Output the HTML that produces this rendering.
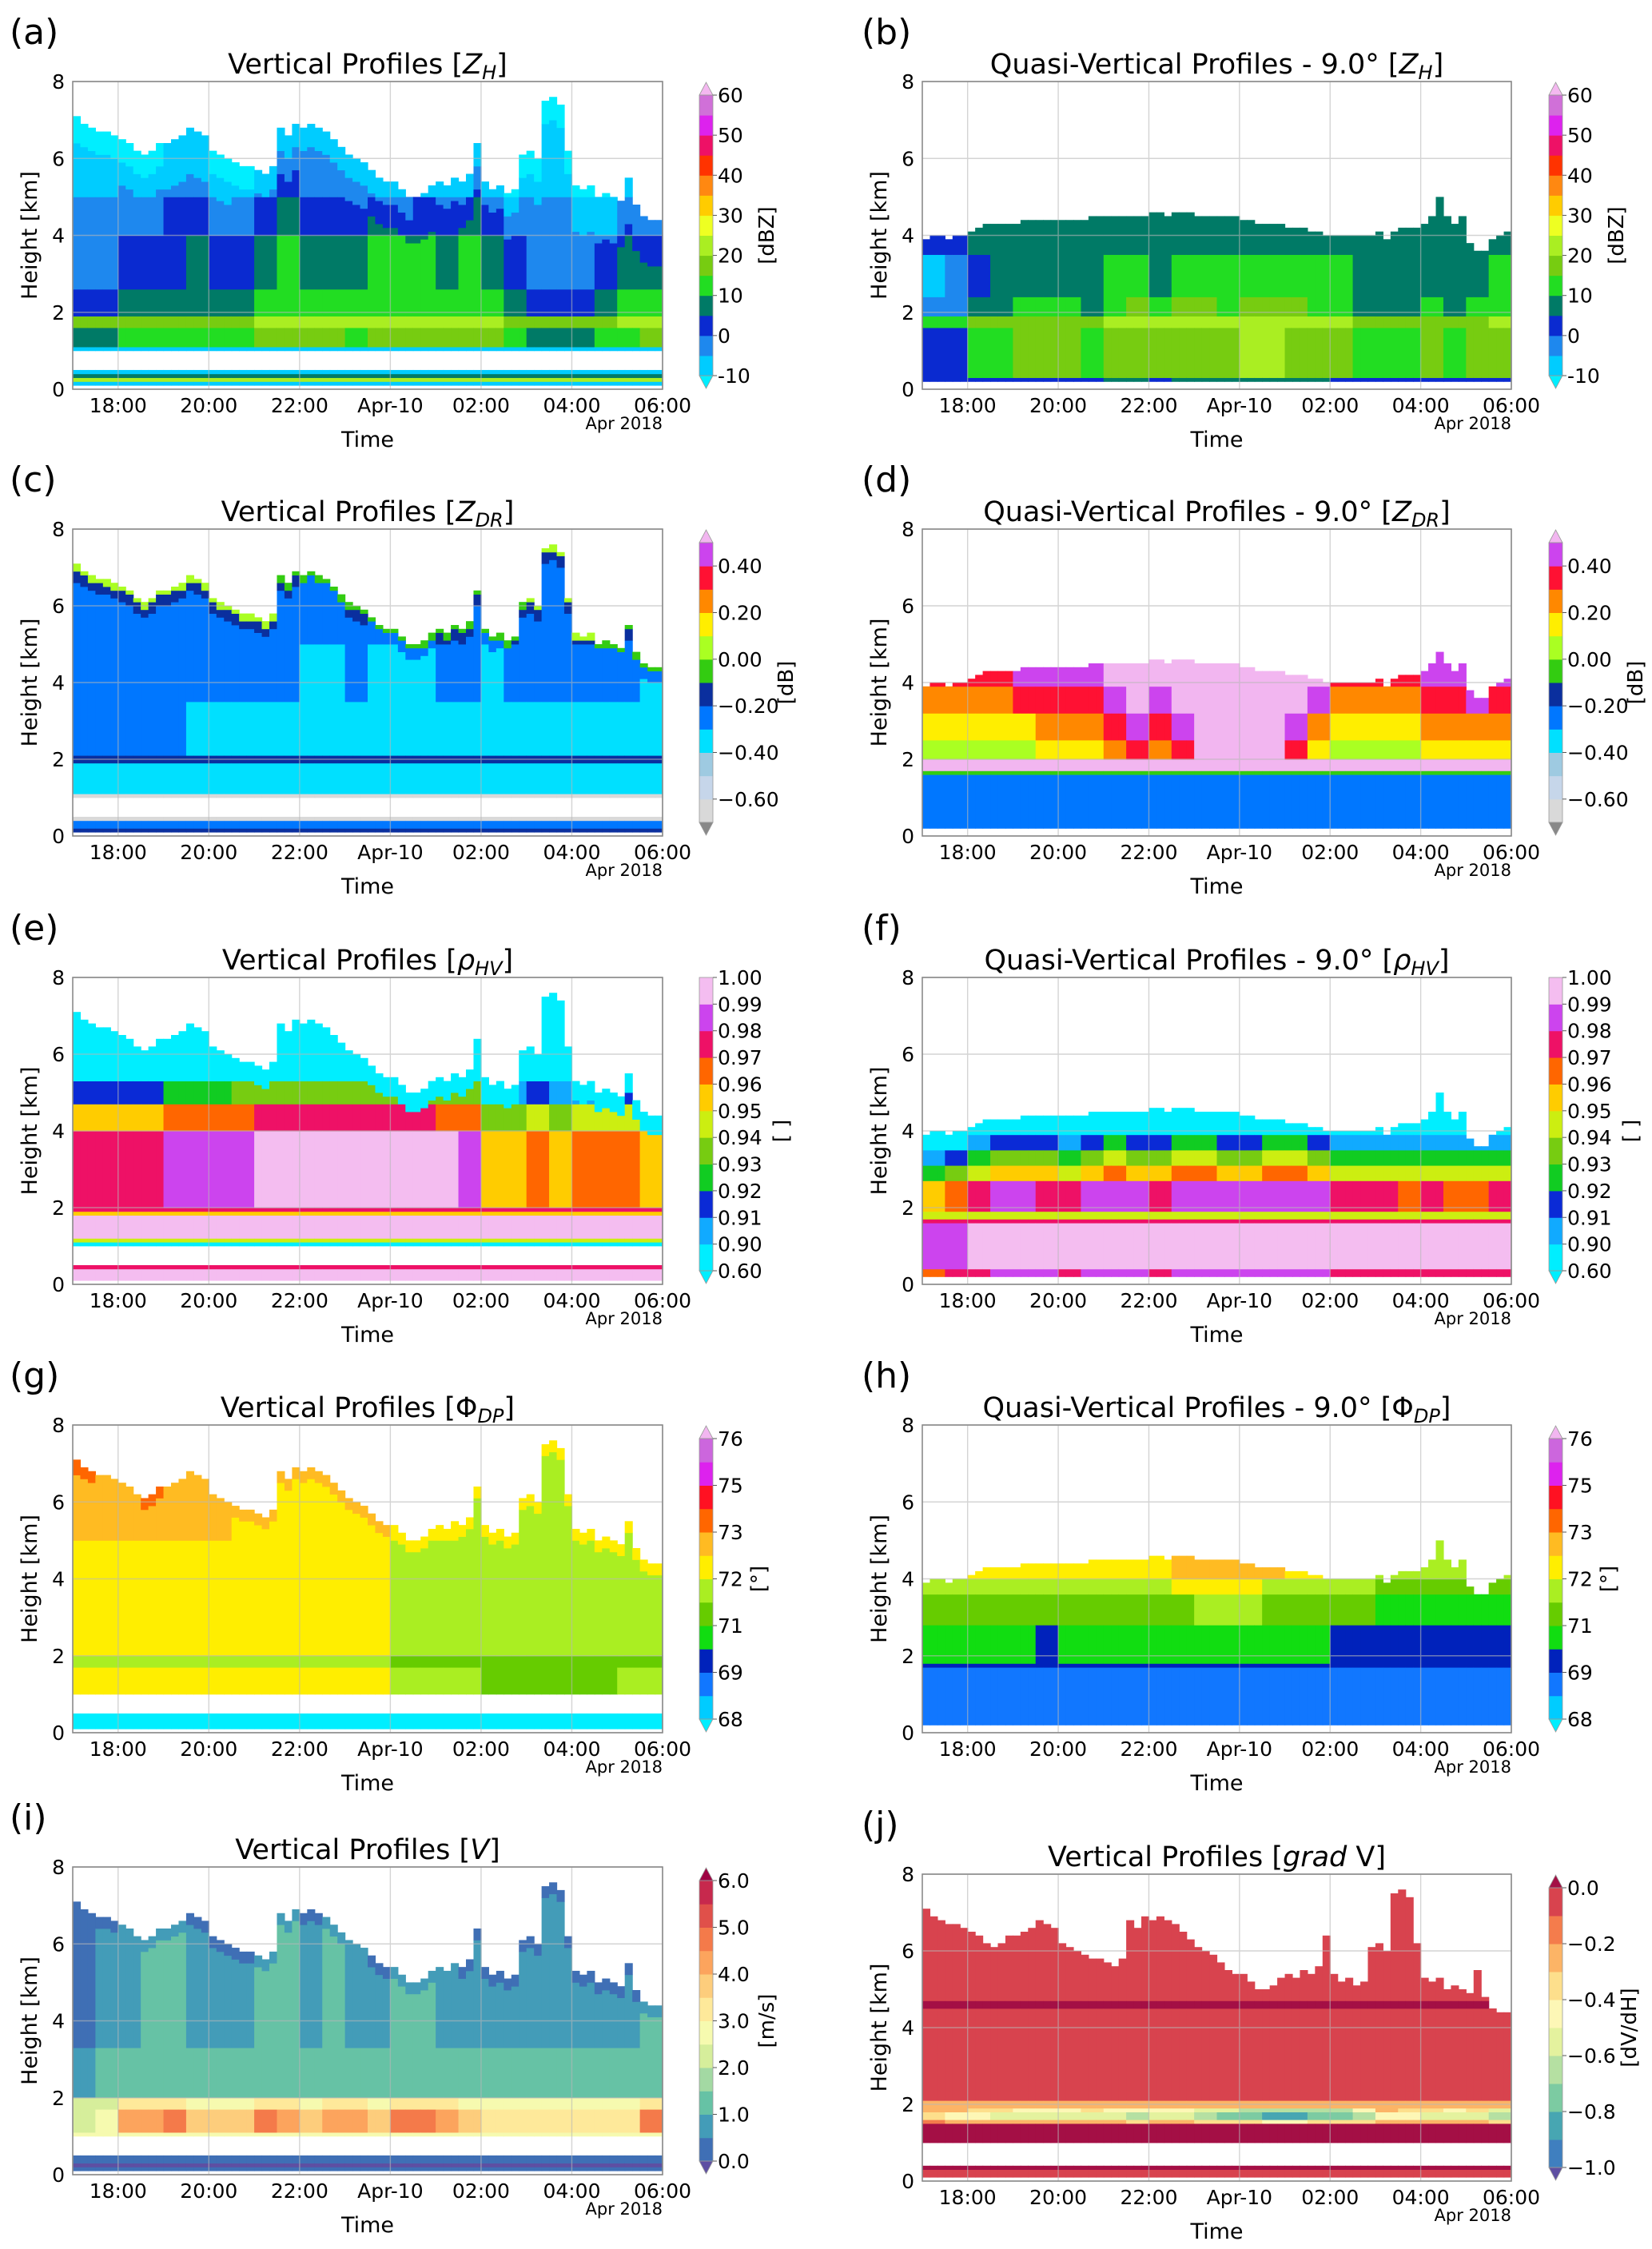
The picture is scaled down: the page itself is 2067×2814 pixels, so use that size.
<!DOCTYPE html>
<html>
<head>
<meta charset="utf-8">
<title>Vertical and Quasi-Vertical Profiles</title>
<style>
  html,body{margin:0;padding:0;background:#fff;}
  svg{display:block;}
  text{font-family:"DejaVu Sans","Liberation Sans",sans-serif;fill:#000;}
</style>
</head>
<body>
<svg id="fig" xmlns="http://www.w3.org/2000/svg" width="2067" height="2814" viewBox="0 0 2067 2814"></svg>
<script>
// ---------------- DATA ----------------
const timeTickHours = [1,3,5,7,9,11,13];
const timeTickLabels = ['18:00','20:00','22:00','Apr-10','02:00','04:00','06:00'];
const heightTicks = [0,2,4,6,8];

const echoTopVP = [7.05,6.9,6.8,6.7,6.65,6.6,6.5,6.4,6.2,6.1,6.2,6.4,6.4,6.5,6.6,6.8,6.7,6.6,6.2,6.1,6.0,5.9,5.8,5.8,5.7,5.6,5.8,6.8,6.6,6.9,6.8,6.9,6.8,6.7,6.5,6.3,6.1,6.0,5.9,5.7,5.5,5.4,5.4,5.2,5.0,5.0,5.1,5.3,5.4,5.3,5.5,5.4,5.6,6.4,5.4,5.2,5.3,5.1,5.2,6.1,6.2,6.0,7.5,7.6,7.4,6.2,5.3,5.2,5.3,5.0,5.1,5.0,4.9,5.5,4.8,4.5,4.4,4.4];
const echoTopQVP = [3.9,4.0,3.95,3.9,3.95,4.0,4.1,4.2,4.25,4.25,4.25,4.25,4.3,4.35,4.35,4.35,4.35,4.35,4.35,4.35,4.4,4.4,4.45,4.45,4.45,4.45,4.5,4.5,4.5,4.5,4.6,4.6,4.5,4.55,4.6,4.6,4.5,4.5,4.5,4.5,4.5,4.45,4.4,4.35,4.3,4.3,4.3,4.25,4.2,4.2,4.15,4.1,4.05,4.0,3.95,4.0,3.95,4.0,3.95,4.0,4.05,3.9,4.1,4.2,4.2,4.2,4.3,4.5,5.0,4.5,4.3,4.5,3.8,3.6,3.6,3.9,4.0,4.1];

const layersA = [[0.1,0.2,-7,0],[0.2,0.3,20,0],[0.3,0.4,7,0],[0.4,0.5,-7,0],[1.0,1.1,-7,0],[1.1,1.6,13,0.8],[1.6,1.95,19,0.6],[1.95,2.6,8,1],[2.6,4.0,4,1.2],[4.0,5.0,0,1],[5.0,8,-3,0.6]];
const anomA = [-5,-4,-2,-2,0,1,-3,-2,3,5,3,4,2,5,5,6,4,5,4,-2,-4,-5,-4,-3,2,3];
const topAdjA = [[0,0.6,-6],[0.6,1.2,-3]];

const layersB = [[0.25,0.35,4,0.3],[0.35,1.6,14,1],[1.6,1.9,19,0.6],[1.9,2.4,9,1.2],[2.4,3.5,7,1.2],[3.5,5,6,0.3]];
const anomB = [-11,-10,-3,0,1,1,1,0,4,5,2,5,5,4,6,6,5,4,3,0,-1,0,1,0,1,3];
const topAdjB = [];

const layersC = [[0.1,0.2,-0.15,0],[0.2,0.4,-0.25,0],[0.4,0.5,-0.65,0],[1.0,1.1,-0.65,0],[1.1,1.9,-0.35,0.5],[1.9,2.1,-0.15,0],[2.1,3.5,-0.33,1],[3.5,5.0,-0.27,1],[5.0,8,-0.25,0.5]];
const anomC = [0.05,0.05,0.05,0.04,0.04,0.03,0.02,0.02,0,-0.02,-0.03,-0.03,-0.02,-0.03,-0.03,-0.03,-0.02,-0.02,-0.03,-0.02,0,0.01,0,-0.01,-0.02,-0.03];
const topAdjC = [[0,0.15,0.25],[0.15,0.4,0.06]];

const layersD = [[0.25,1.6,-0.27,0],[1.6,1.7,-0.05,0],[1.7,2.0,0.6,0],[2.0,2.5,0.05,1],[2.5,3.2,0.15,1],[3.2,3.9,0.28,1],[3.9,4.8,0.38,1]];
const anomD = [0,-0.03,0,0,0.03,0.05,0.1,0.1,0.2,0.3,0.15,0.25,0.45,0.5,0.55,0.5,0.3,0.12,0,-0.02,-0.02,0,0.05,0.1,0.12,0.08];
const topAdjD = [];

const layersE = [[0.1,0.4,0.995,0],[0.4,0.5,0.975,0],[1.0,1.1,0.8,0],[1.1,1.2,0.94,0],[1.2,1.8,0.995,0],[1.8,1.9,0.95,0],[1.9,2.0,0.975,0],[2.0,4.0,0.988,1],[4.0,4.7,0.967,1],[4.7,5.3,0.93,1],[5.3,8,0.85,0.5]];
const anomE = [-0.017,-0.015,-0.016,-0.012,-0.004,-0.006,-0.002,0,0.004,0.006,0.007,0.007,0.006,0.008,0.005,0.004,0.002,0,-0.035,-0.03,-0.02,-0.03,-0.025,-0.02,-0.02,-0.03];
const topAdjE = [[0,0.5,-0.15]];

const layersF = [[0.25,0.4,0.982,0.5],[0.4,1.6,0.995,0.3],[1.6,1.7,0.975,0],[1.7,1.95,0.945,0],[1.95,2.7,0.981,1],[2.7,3.1,0.955,1],[3.1,3.5,0.935,1],[3.5,3.9,0.915,1],[3.9,5,0.85,0]];
const anomF = [-0.03,-0.02,-0.008,0.002,0.003,-0.003,-0.01,0.003,0.005,0.002,-0.005,0.005,0.006,0.004,0.004,0.006,0.005,0.002,-0.006,-0.008,-0.01,-0.012,-0.01,-0.015,-0.012,-0.01];
const topAdjF = [];

const layersG = [[0.1,0.5,67.5,0],[1.0,1.7,72.1,1],[1.7,2.0,71.6,1],[2.0,5.0,72.3,1],[5.0,8,72.5,1]];
const anomG = [0.35,0.3,0.3,0.35,0.3,0.2,0.2,0.15,0.1,0.1,0.15,0.1,0,-0.05,-0.4,-0.5,-0.5,-0.6,-0.8,-0.8,-0.8,-0.8,-0.8,-0.8,-0.7,-0.7];
const topAdjG = [[0,0.3,0.5]];

const layersH = [[0.25,1.7,68.9,0.3],[1.7,1.8,69.6,0],[1.8,2.8,69.9,0.6],[2.8,3.6,70.8,0.6],[3.6,4.0,71.4,0.8],[4.0,5,72.0,1]];
const anomH = [0.4,0.5,0.5,0.4,0.2,0.1,0.2,0.2,0.3,0.5,0.6,0.8,1.0,1.0,0.9,0.7,0.5,0.3,0.1,0,-0.3,-0.4,-0.5,-0.5,-0.4,-0.3];
const topAdjH = [];

const layersI = [[0.1,0.2,0.25,0],[0.2,0.3,-0.1,0],[0.3,0.5,0.2,0],[1.0,1.1,2.8,0],[1.1,1.7,3.6,1],[1.7,2.0,2.8,0.5],[2.0,3.3,1.2,0.2],[3.3,8,0.8,0.3]];
const anomI = [-1.2,-1.0,0.5,0.8,0.9,0.2,0,0,0.9,0.8,0.2,0.8,0.4,0.3,1.3,1.1,0.5,0.3,-0.6,-0.6,-0.5,-0.4,-0.6,-0.5,-0.3,1.2];
const topAdjI = [[0,0.3,-0.4]];

const layersJ = [[0.1,0.3,-0.05,0],[0.3,0.45,0.02,0],[1.05,1.5,0.03,0],[1.5,1.65,-0.25,0.5],[1.65,1.8,-0.5,1],[1.8,1.95,-0.35,1],[1.95,2.1,-0.22,0],[2.1,4.5,-0.08,0],[4.5,4.7,0.02,0],[4.7,8,-0.08,0]];
const anomJ = [0.1,0.05,0,-0.05,-0.1,-0.1,-0.1,-0.05,-0.1,-0.15,-0.1,-0.1,-0.2,-0.25,-0.3,-0.35,-0.35,-0.3,-0.3,-0.15,0.05,0,-0.05,-0.1,-0.05,-0.2];
const topAdjJ = [];

const zhBounds = [-10,-5,0,5,10,15,20,25,30,35,40,45,50,55,60];
const zhColors = ['#00ccff','#1e88ee','#0a2ad0','#007a66','#22dd22','#77cc11','#aaee22','#eeff22','#ffcc00','#ff8811','#ff3300','#ee1166','#dd22ee','#d070d8'];
const zhTickVals = [-10,0,10,20,30,40,50,60];
const zhTickLabels = ['-10','0','10','20','30','40','50','60'];

const zdrBounds = [-0.7,-0.6,-0.5,-0.4,-0.3,-0.2,-0.1,0,0.1,0.2,0.3,0.4,0.5];
const zdrColors = ['#d9d9d9','#c6d6ea','#9ecae1','#00e0ff','#0077ff','#0a2f9e','#33cc11','#aaff22','#ffee00','#ff8800','#ff1133','#cc44ee'];
const zdrTickVals = [-0.6,-0.4,-0.2,0,0.2,0.4];
const zdrTickLabels = ['\u22120.60','\u22120.40','\u22120.20','0.00','0.20','0.40'];

const rhoBounds = [0.6,0.9,0.91,0.92,0.93,0.94,0.95,0.96,0.97,0.98,0.99,1.0];
const rhoColors = ['#00eeff','#11aaff','#0a2ad6','#11cc22','#77cc11','#ccee11','#ffcc00','#ff6600','#ee1166','#cc44ee','#f4bdf0'];
const rhoTickVals = [0.6,0.9,0.91,0.92,0.93,0.94,0.95,0.96,0.97,0.98,0.99,1.0];
const rhoTickLabels = ['0.60','0.90','0.91','0.92','0.93','0.94','0.95','0.96','0.97','0.98','0.99','1.00'];

const phiBounds = [68,68.67,69.33,70,70.67,71.33,72,72.67,73.33,74,74.67,75.33,76];
const phiColors = ['#00ccff','#1177ff','#0022bb','#11dd11','#66cc00','#aaee22','#ffee00','#ffbb22','#ff6600','#ff1122','#dd22ee','#cc66dd'];
const phiTickVals = [68,69.33,70.67,72,73.33,74.67,76];
const phiTickLabels = ['68','69','71','72','73','75','76'];

const vBounds = [0,0.5,1,1.5,2,2.5,3,3.5,4,4.5,5,5.5,6];
const vColors = ['#3f6fb5','#439cb8','#66c2a5','#a3d9a3','#d6ee9b','#f6faaf','#fee99a','#fdcd7c','#fca45d','#f47a4a','#e0504a','#c7294d'];
const vTickVals = [0,1,2,3,4,5,6];
const vTickLabels = ['0.0','1.0','2.0','3.0','4.0','5.0','6.0'];

const gvBounds = [-1,-0.9,-0.8,-0.7,-0.6,-0.5,-0.4,-0.3,-0.2,-0.1,0];
const gvColors = ['#3f7fbf','#47a6b2','#7ccba2','#b5e0a2','#e4f29e','#fdf7b6','#fddf8c','#fcb466','#f47c4c','#d8434e'];
const gvTickVals = [-1,-0.8,-0.6,-0.4,-0.2,0];
const gvTickLabels = ['\u22121.0','\u22120.8','\u22120.6','\u22120.4','\u22120.2','0.0'];

// ---------------- RENDER ----------------
const NS = 'http://www.w3.org/2000/svg';
const svg = document.getElementById('fig');
function mk(tag, attrs, parent){
  const e = document.createElementNS(NS, tag);
  for (const k in attrs) e.setAttribute(k, attrs[k]);
  (parent || svg).appendChild(e);
  return e;
}

const cmaps = {
  zh:{b:zhBounds,c:zhColors,under:'#00eeff',over:'#f4b8f0',ext:[1,1],tv:zhTickVals,tl:zhTickLabels,unit:'[dBZ]',uo:66},
  zdr:{b:zdrBounds,c:zdrColors,under:'#888888',over:'#f2b6f0',ext:[1,1],tv:zdrTickVals,tl:zdrTickLabels,unit:'[dB]',uo:90},
  rho:{b:rhoBounds,c:rhoColors,under:'#00eeff',over:'#f4bdf0',ext:[1,0],tv:rhoTickVals,tl:rhoTickLabels,unit:'[ ]',uo:84},
  phi:{b:phiBounds,c:phiColors,under:'#00eeff',over:'#f2b6f0',ext:[1,1],tv:phiTickVals,tl:phiTickLabels,unit:'[\u00b0]',uo:56},
  v:{b:vBounds,c:vColors,under:'#5e4fa2',over:'#9e0142',ext:[1,1],tv:vTickVals,tl:vTickLabels,unit:'[m/s]',uo:66},
  gv:{b:gvBounds,c:gvColors,under:'#5e4fa2',over:'#a40f45',ext:[1,1],tv:gvTickVals,tl:gvTickLabels,unit:'[dV/dH]',uo:82}
};
function colorOf(cm, v){
  const b = cm.b;
  if (v < b[0]) return cm.under;
  if (v >= b[b.length-1]) return cm.over;
  for (let i=0;i<b.length-1;i++) if (v>=b[i] && v<b[i+1]) return cm.c[i];
  return cm.over;
}
function boundFrac(cm, v){
  const b = cm.b;
  for (let i=0;i<b.length-1;i++){
    if (v>=b[i]-1e-9 && v<=b[i+1]+1e-9) return (i + (v-b[i])/(b[i+1]-b[i]))/(b.length-1);
  }
  return v<b[0]?0:1;
}

const L = {x0:91,x1:829,cbx0:875,cbx1:892,lblX:12};
const R = {x0:1154,x1:1891,cbx0:1938,cbx1:1955,lblX:1078};
function sub(main, s){ return '<tspan font-style="italic">'+main+'</tspan><tspan font-style="italic" font-size="24" dy="7">'+s+'</tspan><tspan dy="-7">]</tspan>'; }
const panels = [
  {id:'a',side:L,y0:102,y1:487,title:'Vertical Profiles ['+sub('Z','H'),cm:'zh',layers:layersA,anom:anomA,topAdj:topAdjA,tops:echoTopVP},
  {id:'b',side:R,y0:102,y1:487,title:'Quasi-Vertical Profiles - 9.0\u00b0 ['+sub('Z','H'),cm:'zh',layers:layersB,anom:anomB,topAdj:topAdjB,tops:echoTopQVP},
  {id:'c',side:L,y0:662,y1:1046,title:'Vertical Profiles ['+sub('Z','DR'),cm:'zdr',layers:layersC,anom:anomC,topAdj:topAdjC,tops:echoTopVP},
  {id:'d',side:R,y0:662,y1:1046,title:'Quasi-Vertical Profiles - 9.0\u00b0 ['+sub('Z','DR'),cm:'zdr',layers:layersD,anom:anomD,topAdj:topAdjD,tops:echoTopQVP},
  {id:'e',side:L,y0:1223,y1:1607,title:'Vertical Profiles ['+sub('\u03c1','HV'),cm:'rho',layers:layersE,anom:anomE,topAdj:topAdjE,tops:echoTopVP},
  {id:'f',side:R,y0:1223,y1:1607,title:'Quasi-Vertical Profiles - 9.0\u00b0 ['+sub('\u03c1','HV'),cm:'rho',layers:layersF,anom:anomF,topAdj:topAdjF,tops:echoTopQVP},
  {id:'g',side:L,y0:1783,y1:2168,title:'Vertical Profiles [\u03a6<tspan font-style="italic" font-size="24" dy="7">DP</tspan><tspan dy="-7">]</tspan>',cm:'phi',layers:layersG,anom:anomG,topAdj:topAdjG,tops:echoTopVP},
  {id:'h',side:R,y0:1783,y1:2168,title:'Quasi-Vertical Profiles - 9.0\u00b0 [\u03a6<tspan font-style="italic" font-size="24" dy="7">DP</tspan><tspan dy="-7">]</tspan>',cm:'phi',layers:layersH,anom:anomH,topAdj:topAdjH,tops:echoTopQVP},
  {id:'i',side:L,y0:2336,y1:2721,title:'Vertical Profiles [<tspan font-style="italic">V</tspan>]',cm:'v',layers:layersI,anom:anomI,topAdj:topAdjI,tops:echoTopVP},
  {id:'j',side:R,y0:2345,y1:2729,title:'Vertical Profiles [<tspan font-style="italic">grad</tspan> V]',cm:'gv',layers:layersJ,anom:anomJ,topAdj:topAdjJ,tops:echoTopVP}
];

panels.forEach(p => {
  const s = p.side, x0 = s.x0, x1 = s.x1, y0 = p.y0, y1 = p.y1;
  const cm = cmaps[p.cm];
  const xs = h => x0 + (h/13)*(x1-x0);
  const ys = km => y1 - (km/8)*(y1-y0);
  const g = mk('g', {});
  
  

  const lt = mk('text', {x:s.lblX, y:y0-47, 'font-size':44}, g);
  lt.textContent = '('+p.id+')';
  
  

  const tt = mk('text', {x:(x0+x1)/2, y:y0-10, 'font-size':35, 'text-anchor':'middle'}, g);
  tt.innerHTML = p.title;
  
  

  const hm = mk('g', {}, g);
  
  
  const nCols = p.tops.length;
  for (let c=0;c<nCols;c++){
    const t0 = c/6, xa = xs(t0), xb = xs(t0+1/6);
    const top = p.tops[c];
    const an = p.anom[Math.floor(c/3)] || 0;
    let runStart = -1, runColor = null;
    const flush = (kEnd) => {
      if (runColor !== null){
        const r = mk('rect', {x:xa.toFixed(2), y:ys(kEnd/10).toFixed(2), width:(xb-xa+0.6).toFixed(2), height:(ys(runStart/10)-ys(kEnd/10)+0.4).toFixed(2), fill:runColor}, hm);
        
        
      }
    };
    for (let k=0;k<=80;k++){
      let col = null;
      if (k<80){
        const h = (k+0.5)/10;
        if (h <= top){
          const lay = p.layers.find(l => h>=l[0] && h<l[1]);
          if (lay){
            let v = lay[2] + lay[3]*an;
            const d = top - h;
            p.topAdj.forEach(t => { if (d>=t[0] && d<t[1]) v += t[2]; });
            col = colorOf(cm, v);
          }
        }
      }
      if (col !== runColor){
        flush(k);
        runColor = col; runStart = k;
      }
    }
  }

  const grid = mk('g', {stroke:'#b8b8b8','stroke-width':1.4,opacity:0.6}, g);
  
  
  timeTickHours.forEach(h => { mk('line', {x1:xs(h), x2:xs(h), y1:y0, y2:y1}, grid); });
  heightTicks.forEach(k => { mk('line', {x1:x0, x2:x1, y1:ys(k), y2:ys(k)}, grid); });

  const fr = mk('rect', {x:x0, y:y0, width:x1-x0, height:y1-y0, fill:'none', stroke:'#8a8a8a', 'stroke-width':1.6}, g);
  
  

  timeTickHours.forEach((h,i) => {
    const t = mk('text', {x:xs(h), y:y1+29, 'font-size':25, 'text-anchor':'middle'}, g);
    t.textContent = timeTickLabels[i];
    
    
  });
  const ap = mk('text', {x:x1, y:y1+50, 'font-size':21, 'text-anchor':'end'}, g);
  ap.textContent = 'Apr 2018';
  
  
  const xt = mk('text', {x:(x0+x1)/2, y:y1+72, 'font-size':27, 'text-anchor':'middle'}, g);
  xt.textContent = 'Time';
  
  

  heightTicks.forEach(k => {
    const t = mk('text', {x:x0-10, y:ys(k)+9, 'font-size':25, 'text-anchor':'end'}, g);
    t.textContent = String(k);
    
    
  });
  const yx = s===L ? 46 : 1109, yc = (y0+y1)/2;
  const yt = mk('text', {x:yx, y:yc, 'font-size':27, 'text-anchor':'middle', transform:'rotate(-90 '+yx+' '+yc+')'}, g);
  yt.textContent = 'Height [km]';
  
  

  const cb = mk('g', {}, g);
  
  
  const cx0 = s.cbx0, cx1 = s.cbx1;
  const ct = cm.ext[1] ? y0+17 : y0, cbot = cm.ext[0] ? y1-17 : y1;
  const nb = cm.c.length, bh = (cbot-ct)/nb;
  for (let i=0;i<nb;i++){
    const r = mk('rect', {x:cx0, y:(cbot-(i+1)*bh).toFixed(2), width:cx1-cx0, height:(bh+0.5).toFixed(2), fill:cm.c[i]}, cb);
    
    
  }
  if (cm.ext[1]){
    const tri = mk('polygon', {points:cx0+','+ct+' '+cx1+','+ct+' '+((cx0+cx1)/2)+','+(y0+1), fill:cm.over, stroke:'#999','stroke-width':0.8}, cb);
    
    
  }
  if (cm.ext[0]){
    const tri = mk('polygon', {points:cx0+','+cbot+' '+cx1+','+cbot+' '+((cx0+cx1)/2)+','+(y1-1), fill:cm.under, stroke:'#999','stroke-width':0.8}, cb);
    
    
  }
  mk('rect', {x:cx0, y:ct, width:cx1-cx0, height:cbot-ct, fill:'none', stroke:'#999', 'stroke-width':0.8}, cb);
  cm.tv.forEach((v,i) => {
    const yy = cbot - boundFrac(cm, v)*(cbot-ct);
    mk('line', {x1:cx1, x2:cx1+5, y1:yy, y2:yy, stroke:'#555','stroke-width':1}, cb);
    const t = mk('text', {x:cx1+6, y:yy+9, 'font-size':25}, cb);
    t.textContent = cm.tl[i];
    
    
  });
  const ux = cx1 + cm.uo + 10;
  const ut = mk('text', {x:ux, y:yc, 'font-size':26, 'text-anchor':'middle', transform:'rotate(-90 '+ux+' '+yc+')'}, cb);
  ut.textContent = cm.unit;
  
  
});
</script>
</body>
</html>
